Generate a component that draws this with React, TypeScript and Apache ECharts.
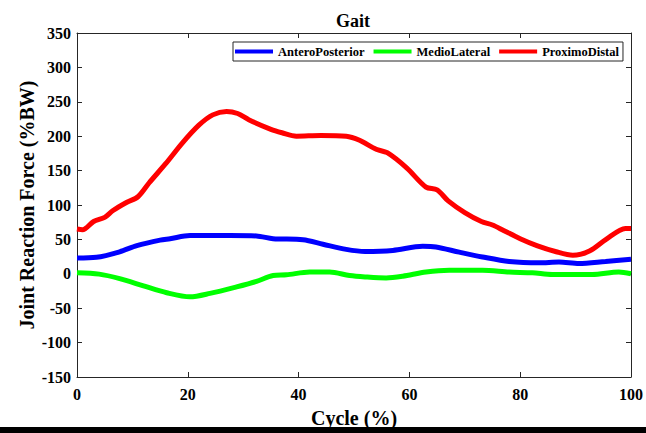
import React, { useEffect, useRef } from "react";
import * as echarts from "echarts";

const xTicks = [0, 20, 40, 60, 80, 100];
const yRange = [-150, 350];

const seriesNames = ["AnteroPosterior", "MedioLateral", "ProximoDistal"];

const blueX = [0, 3.5, 7.7, 10.8, 15, 16.8, 20.4, 27.6, 32.4, 35.4, 40.8, 44.4, 48.6, 52, 57, 62.4, 64.8, 69, 73.2, 78, 83.4, 87, 90.6, 95.4, 100];
const blueY = [23, 24, 32, 41, 49, 51, 55.5, 55.5, 55, 51, 49.5, 43, 35.5, 32.5, 34, 40, 39, 31.5, 24.5, 18, 16, 17, 15, 18, 21];

const greenX = [0, 4, 7.7, 12, 16.2, 20.4, 24, 28.8, 32.4, 35.4, 37.8, 42, 45.6, 49.2, 52, 55.8, 58.8, 63, 67.2, 73.2, 78, 82.2, 85.8, 93, 97.8, 100];
const greenY = [1.5, -0.5, -7, -17.5, -27.5, -33.5, -28.5, -19, -11, -2.5, -1.5, 2.5, 2.5, -2.5, -4.5, -6, -3.5, 2.5, 5, 5, 2.5, 1.5, -1, -1, 2.5, 0];

const redX = [0, 1, 3, 5, 6.5, 9, 11, 13, 16, 19, 22, 24.5, 27, 29, 31, 35, 37, 39.6, 44, 48.6, 51, 54, 56, 59.5, 63, 65, 67, 70, 73, 75, 77, 80, 83, 86.5, 89.5, 92.5, 95.5, 99, 100];
const redY = [65, 64, 76, 82, 92, 104, 112, 132, 160, 190, 216, 231, 236, 233, 224, 210, 205, 200, 201, 200, 194, 181, 176, 154, 126, 122, 106, 89, 76, 71, 63, 51, 41, 32, 27, 33, 50, 66, 66];

const colors = ["#0000ff", "#00ff00", "#ff0000"];

const FONT = "Times New Roman, Liberation Serif, DejaVu Serif, serif";
const AXIS_COLOR = "#262626";

function pairs(xs: number[], ys: number[]) {
  return xs.map((x, i) => [x, ys[i]]);
}

export default function App() {
  const ref = useRef<HTMLDivElement>(null);
  useEffect(() => {
    if (!ref.current) return;
    const chart = echarts.init(ref.current, null, { renderer: "svg" });
    const tickStyle = { show: true, inside: true, length: 5, lineStyle: { color: AXIS_COLOR, width: 1 } };
    const lineStyle = { show: true, onZero: false, lineStyle: { color: AXIS_COLOR, width: 1 } };
    const labelStyle = { fontFamily: FONT, fontWeight: "bold" as const, fontSize: 16, color: "#000" };
    const datasets = [pairs(blueX, blueY), pairs(greenX, greenY), pairs(redX, redY)];
    chart.setOption({
      animation: false,
      backgroundColor: "#fff",
      textStyle: { fontFamily: FONT },
      title: {
        text: "Gait",
        left: 348,
        textAlign: "center",
        top: 7,
        textStyle: { fontFamily: FONT, fontWeight: "bold", fontSize: 18, color: "#000" },
      },
      legend: {
        data: seriesNames,
        left: 233,
        top: 42,
        orient: "horizontal",
        icon: "rect",
        itemWidth: 38,
        itemHeight: 4,
        itemGap: 9,
        padding: [3, 4, 3, 2],
        borderColor: AXIS_COLOR,
        borderWidth: 1,
        backgroundColor: "#fff",
        textStyle: { fontFamily: FONT, fontWeight: "bold", fontSize: 12.5, color: "#000" },
      },
      grid: { left: 77, right: 14, top: 33, bottom: 54, containLabel: false },
      xAxis: [
        {
          type: "value",
          min: xTicks[0],
          max: xTicks[xTicks.length - 1],
          interval: 20,
          position: "bottom",
          axisLine: lineStyle,
          axisTick: tickStyle,
          splitLine: { show: false },
          axisLabel: { ...labelStyle, margin: 9 },
          name: "Cycle (%)",
          nameLocation: "middle",
          nameGap: 31,
          nameTextStyle: { fontFamily: FONT, fontWeight: "bold", fontSize: 20, color: "#000" },
        },
        {
          type: "value",
          min: xTicks[0],
          max: xTicks[xTicks.length - 1],
          interval: 20,
          position: "top",
          axisLine: lineStyle,
          axisTick: tickStyle,
          splitLine: { show: false },
          axisLabel: { show: false },
        },
      ],
      yAxis: [
        {
          type: "value",
          min: yRange[0],
          max: yRange[1],
          interval: 50,
          position: "left",
          axisLine: lineStyle,
          axisTick: tickStyle,
          splitLine: { show: false },
          axisLabel: { ...labelStyle, margin: 6 },
          name: "Joint Reaction Force (%BW)",
          nameLocation: "middle",
          nameGap: 40,
          nameMoveOverlap: false,
          nameTextStyle: { fontFamily: FONT, fontWeight: "bold", fontSize: 20, color: "#000" },
        },
        {
          type: "value",
          min: yRange[0],
          max: yRange[1],
          interval: 50,
          position: "right",
          axisLine: lineStyle,
          axisTick: tickStyle,
          splitLine: { show: false },
          axisLabel: { show: false },
        },
      ],
      series: seriesNames.map((name, i) => ({
        name,
        type: "line",
        data: datasets[i],
        smooth: 0.3,
        showSymbol: false,
        symbol: "none",
        color: colors[i],
        lineStyle: { color: colors[i], width: 5 },
        xAxisIndex: 0,
        yAxisIndex: 0,
      })),
      graphic: [
        {
          type: "rect",
          left: 0,
          top: 427,
          shape: { x: 0, y: 0, width: 646, height: 6 },
          style: { fill: "#000" },
          z: 100,
        },
      ],
    });
    return () => chart.dispose();
  }, []);
  return (
    <div
      ref={ref}
      style={{ position: "fixed", left: 0, top: 0, width: 646, height: 433 }}
    />
  );
}
